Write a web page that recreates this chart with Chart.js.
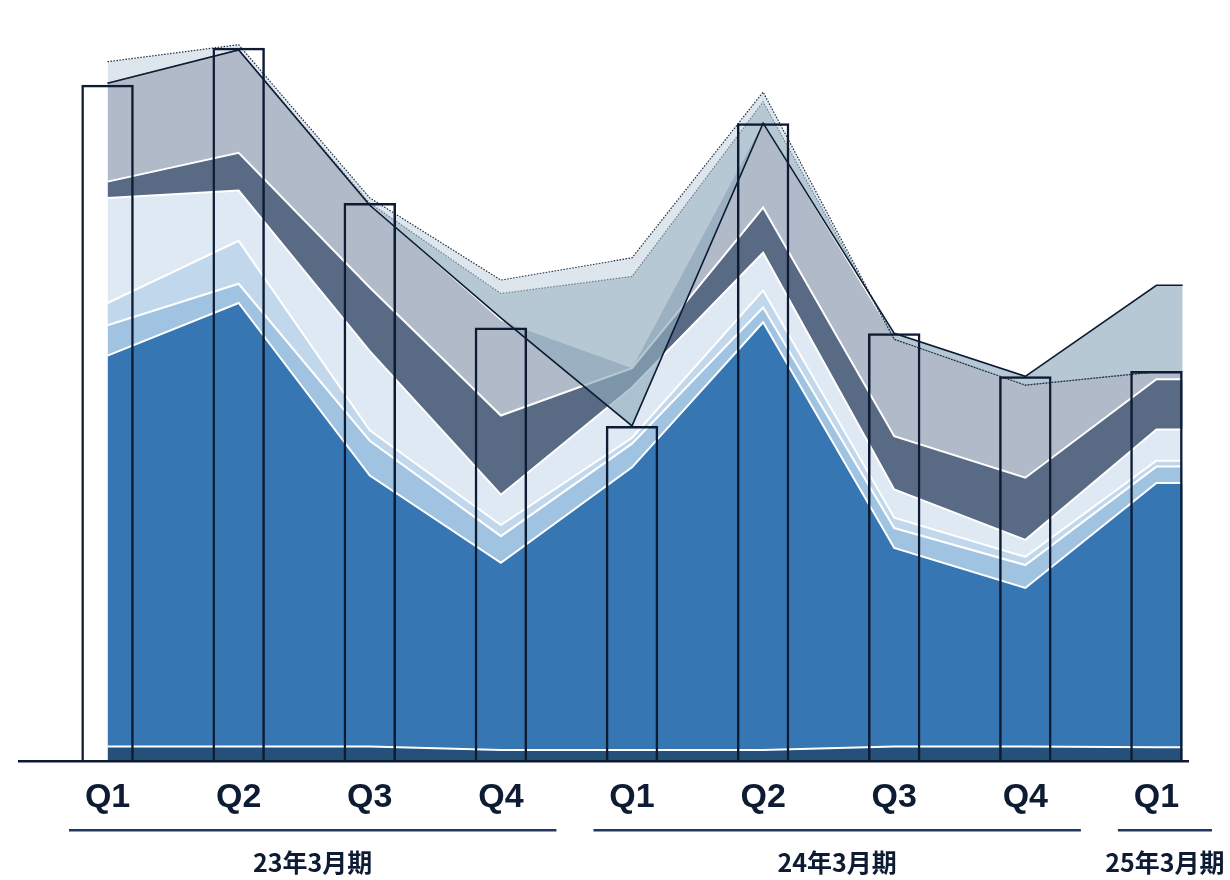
<!DOCTYPE html>
<html>
<head>
<meta charset="utf-8">
<script src="https://cdn.jsdelivr.net/npm/chart.js@4/dist/chart.umd.min.js"></script>
<style>
  html, body { margin: 0; padding: 0; background: #fff; }
  #wrap { width: 1230px; height: 880px; }
</style>
</head>
<body>
<div id="wrap"><canvas id="chart"></canvas></div>
<script>
// quarters on the axis and the fiscal years they belong to
const QUARTERS = ['Q1', 'Q2', 'Q3', 'Q4', 'Q1', 'Q2', 'Q3', 'Q4', 'Q1']
const FISCAL_YEARS = ['23年3月期', '24年3月期', '25年3月期']
const FISCAL_SPANS = [[0, 3], [4, 7], [8, 8]]

// outlined bars
const BAR_TOTAL = [91.4, 96.4, 75.4, 58.6, 45.3, 86.2, 57.8, 52.0, 52.7]

// stacked layers, bottom to top
const LAYER_BASE   = [2.0, 2.0, 2.0, 1.5, 1.5, 1.5, 2.0, 2.0, 1.9]
const LAYER_MAIN   = [52.8, 59.9, 36.6, 25.3, 38.2, 57.8, 26.8, 21.4, 35.7]
const LAYER_LIGHT1 = [4.1, 2.6, 4.7, 3.6, 3.2, 2.0, 2.7, 3.1, 2.2]
const LAYER_LIGHT2 = [3.0, 5.8, 1.4, 1.5, 0.8, 2.3, 1.4, 1.1, 0.8]
const LAYER_LIGHT3 = [14.2, 6.8, 10.7, 4.1, 6.8, 5.1, 3.8, 2.3, 4.2]
const LAYER_SLATE  = [2.2, 5.1, 8.6, 10.7, 2.6, 6.1, 7.2, 8.4, 6.8]
const LAYER_GREY   = [13.4, 13.9, 11.1, 12.8, 0, 11.4, 13.2, 12.6, 1.1]

// overlay outlines (not stacked)
const LINE_SOLID = [91.6, 96.1, 75.1, 59.9, 45.3, 86.2, 57.8, 52.0, 64.3]
const LINE_INNER = [91.6, 96.1, 75.4, 63.2, 65.5, 89.1, 57.0, 50.8, 52.6]
const LINE_OUTER = [94.5, 96.8, 76.1, 65.0, 68.0, 90.4, 57.0, 50.8, 52.6]

const BAR_PCT = 0.4
const NAVY = '#0d1b33'

// areas run from the first centre to the right edge of the last bar
const toPoints = arr => {
    const pts = arr.map((v, i) => ({ x: i, y: v }))
    pts.push({ x: arr.length - 1 + BAR_PCT / 2, y: arr[arr.length - 1] })
    return pts
}

const layer = (data, color, order, fill) => ({
    type: 'line',
    data: toPoints(data),
    xAxisID: 'x2',
    stack: 'layers',
    backgroundColor: color,
    borderColor: '#ffffff',
    borderWidth: 2,
    pointRadius: 0,
    tension: 0,
    fill: fill,
    order: order
})

const baseline = {
    id: 'baseline',
    afterDatasetsDraw(chart) {
        const { ctx, chartArea } = chart
        ctx.save()
        ctx.strokeStyle = NAVY
        ctx.lineWidth = 2.5
        ctx.beginPath()
        ctx.moveTo(chartArea.left - 24, chartArea.bottom)
        ctx.lineTo(chartArea.right - 33, chartArea.bottom)
        ctx.stroke()
        ctx.restore()
    }
}

const fiscalLabels = {
    id: 'fiscalLabels',
    afterDraw(chart) {
        const { ctx, chartArea } = chart
        const x = chart.scales.x
        const half = (x.getPixelForValue(1) - x.getPixelForValue(0)) / 2
        ctx.save()
        FISCAL_SPANS.forEach(([a, b], i) => {
            const left = x.getPixelForValue(a) - half + 27
            const right = x.getPixelForValue(b) + half - 10
            ctx.strokeStyle = '#1f3864'
            ctx.lineWidth = 2.5
            ctx.beginPath()
            ctx.moveTo(left, chartArea.bottom + 69)
            ctx.lineTo(right, chartArea.bottom + 69)
            ctx.stroke()
            ctx.fillStyle = NAVY
            ctx.font = 'bold 25px "Noto Sans CJK JP", "Liberation Sans", sans-serif'
            ctx.textAlign = 'center'
            ctx.textBaseline = 'middle'
            ctx.fillText(FISCAL_YEARS[i], (left + right) / 2, chartArea.bottom + 101)
        })
        ctx.restore()
    }
}

new Chart(document.getElementById('chart'), {
    type: 'bar',
    data: {
        labels: QUARTERS,
        datasets: [
            {
                label: 'total',
                data: BAR_TOTAL,
                backgroundColor: 'rgba(0,0,0,0)',
                borderColor: NAVY,
                borderWidth: 2.5,
                barPercentage: BAR_PCT,
                categoryPercentage: 1,
                grouped: false,
                stack: 'bars',
                order: 0
            },
            {
                type: 'line',
                data: toPoints(LINE_SOLID),
                xAxisID: 'x2',
                stack: 's',
                borderColor: NAVY,
                borderWidth: 1.6,
                pointRadius: 0,
                tension: 0,
                fill: false,
                order: 1
            },
            {
                type: 'line',
                data: toPoints(LINE_INNER),
                xAxisID: 'x2',
                stack: 'd',
                borderColor: '#5d6c7e',
                borderWidth: 1.2,
                borderDash: [1.5, 1.5],
                backgroundColor: 'rgba(144,172,188,0.66)',
                pointRadius: 0,
                tension: 0,
                fill: 1,
                order: 3
            },
            {
                type: 'line',
                data: toPoints(LINE_OUTER),
                xAxisID: 'x2',
                stack: 'u',
                borderColor: '#1f2d44',
                borderWidth: 1.2,
                borderDash: [1.5, 1.5],
                backgroundColor: 'rgba(180,200,212,0.45)',
                pointRadius: 0,
                tension: 0,
                fill: 2,
                order: 2
            },
            layer(LAYER_BASE, '#24507a', 4, 'origin'),
            layer(LAYER_MAIN, '#3677b3', 5, '-1'),
            layer(LAYER_LIGHT1, '#a0c3e1', 6, '-1'),
            layer(LAYER_LIGHT2, '#c0d7ec', 7, '-1'),
            layer(LAYER_LIGHT3, '#dfe9f4', 8, '-1'),
            layer(LAYER_SLATE, '#586a84', 9, '-1'),
            Object.assign(layer(LAYER_GREY, '#b1bac8', 10, '-1'), { borderWidth: 0 })
        ]
    },
    options: {
        responsive: true,
        maintainAspectRatio: false,
        animation: false,
        layout: { padding: { left: 42, right: 8, top: 21, bottom: 54 } },
        plugins: {
            legend: { display: false },
            tooltip: { enabled: false }
        },
        scales: {
            x: {
                grid: { display: false },
                border: { display: false },
                ticks: {
                    color: NAVY,
                    padding: 8,
                    maxRotation: 0,
                    font: { family: '"Liberation Sans", Arial, sans-serif', size: 34, weight: 'bold' }
                }
            },
            x2: {
                type: 'linear',
                display: false,
                offset: false,
                min: -0.5,
                max: QUARTERS.length - 0.5
            },
            y: {
                display: false,
                stacked: true,
                min: 0,
                max: 100
            }
        }
    },
    plugins: [baseline, fiscalLabels]
})
</script>
</body>
</html>
